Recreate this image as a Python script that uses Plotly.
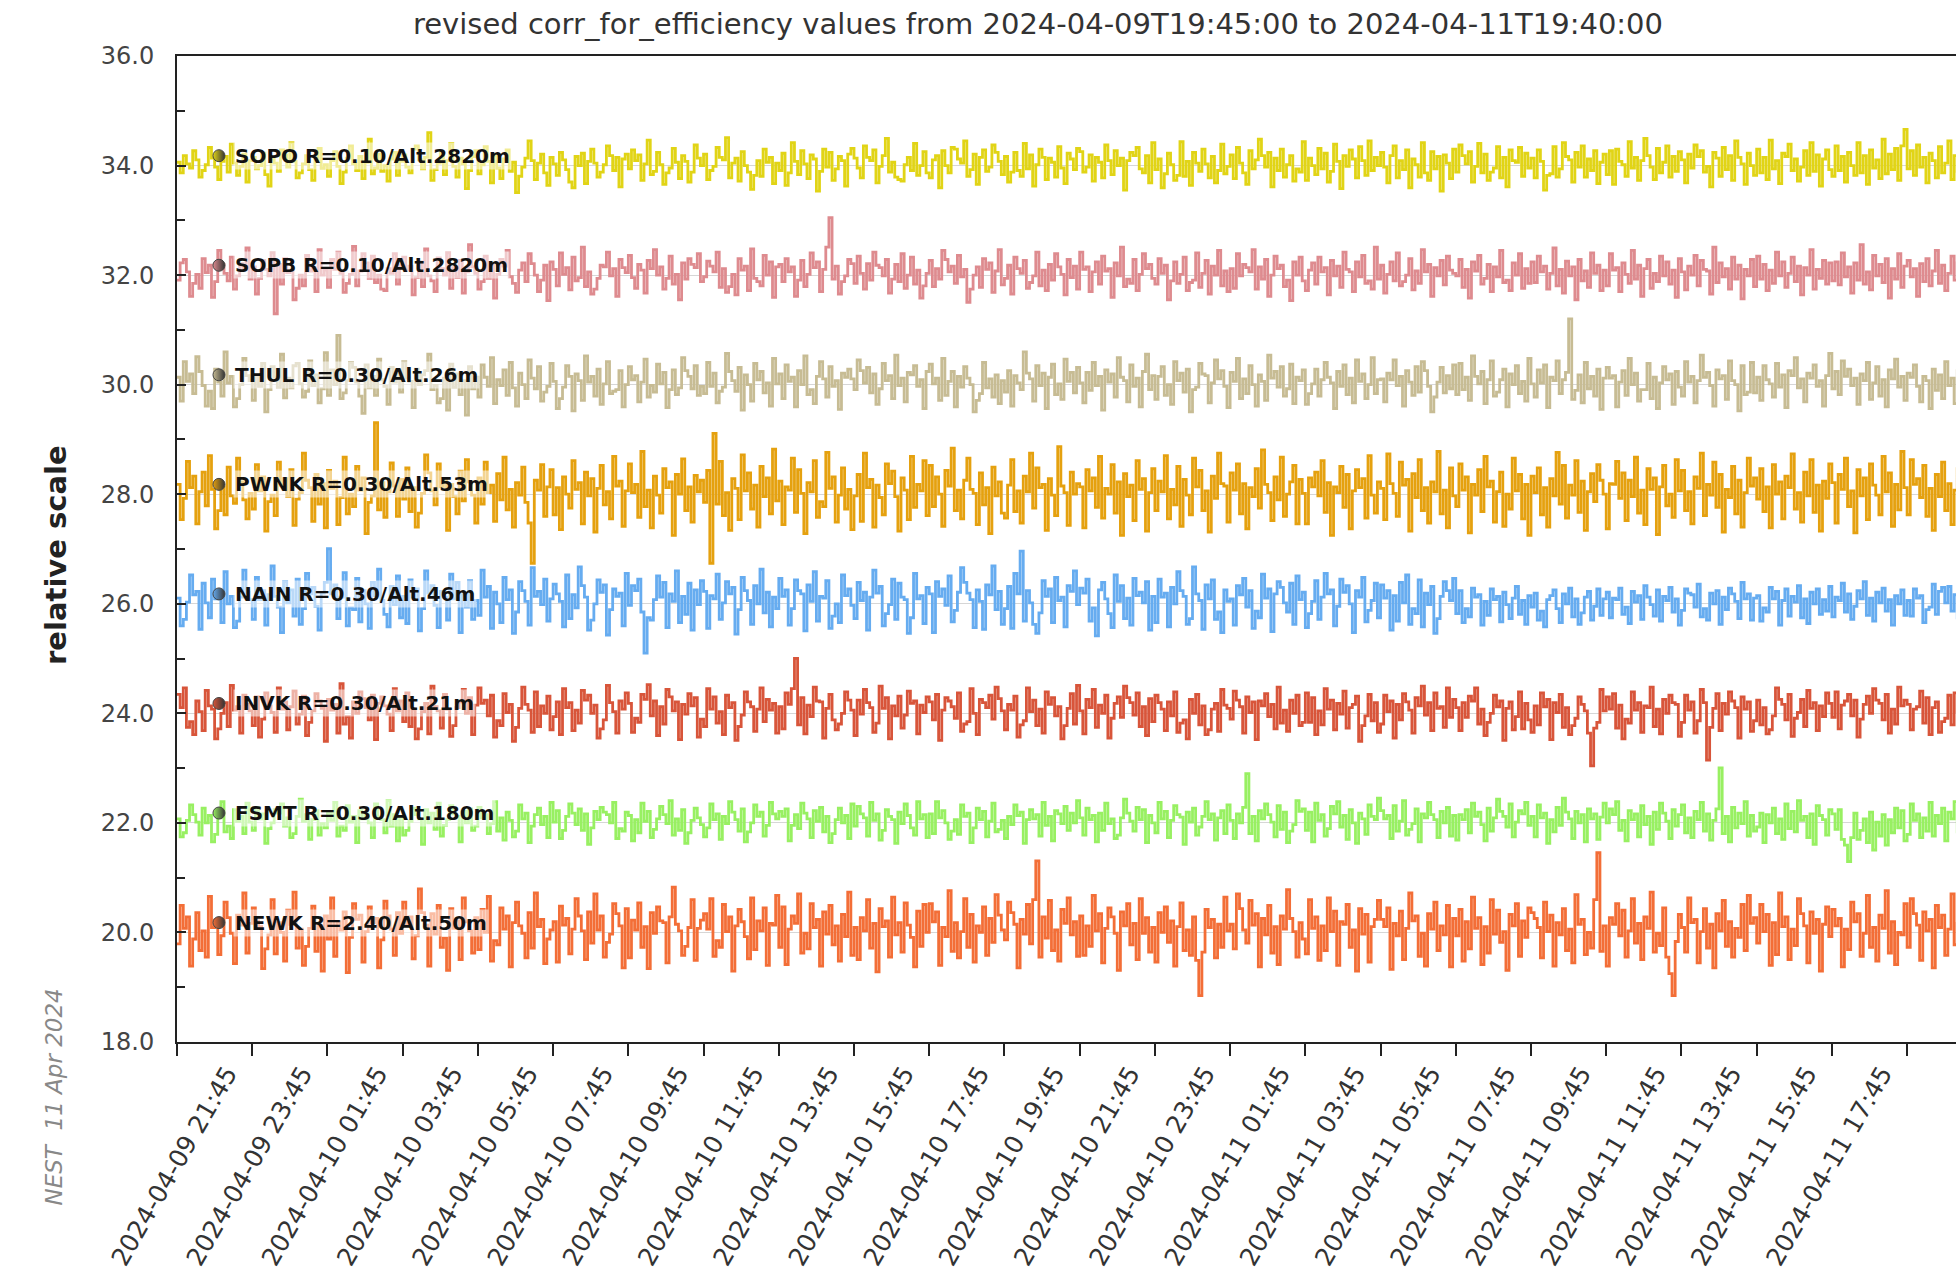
import pandas as pd
import plotly.graph_objects as go

# ---------------- data ----------------
START = "2024-04-09 19:45"          # first sample (5-minute data)
X_END = "2024-04-11 19:03"          # right edge of the visible plot area
STEP = "5min"
DEV_UNIT = 0.015                    # one unit of the deviation arrays on the relative scale

STATIONS = ["SOPO", "SOPB", "THUL", "PWNK", "NAIN", "INVK", "FSMT", "NEWK"]
LABELS = ["SOPO R=0.10/Alt.2820m", "SOPB R=0.10/Alt.2820m", "THUL R=0.30/Alt.26m",
          "PWNK R=0.30/Alt.53m", "NAIN R=0.30/Alt.46m", "INVK R=0.30/Alt.21m",
          "FSMT R=0.30/Alt.180m", "NEWK R=2.40/Alt.50m"]
OFFSETS = [34.0, 32.0, 30.0, 28.0, 26.0, 24.0, 22.0, 20.0]
COLORS = ["#e1d416", "#de8b8f", "#c7bc94", "#e5a10f", "#66acf0", "#d8553a", "#98f062", "#f36e37"]

# deviations from each station's offset (in DEV_UNIT), 5-minute samples
SOPO = [
    4,-9,12,2,-3,18,7,-14,-6,1,22,9,-2,-17,5,11,-8,26,3,-12,-1,14,-20,6,
    10,-4,0,15,-11,-25,8,3,-7,19,13,-2,28,5,-15,-9,2,12,-5,-18,7,21,-3,1,
    -13,6,17,-1,-22,-8,9,24,2,-6,11,-16,4,32,-10,-3,14,-7,0,-19,8,16,-12,5,
    13,-2,-9,20,24,7,-4,10,40,-18,-5,3,15,-11,6,27,-1,-14,9,2,-28,-6,11,18,
    -10,1,23,5,-21,12,-3,-16,8,19,-7,4,-33,-13,-2,9,30,6,-17,3,14,-9,-24,10,
    2,-12,16,7,-5,-20,-27,11,0,15,-22,5,20,3,-14,-8,1,24,12,-6,10,-26,8,14,
    -4,19,6,13,-18,2,31,-11,-7,16,1,-23,-9,-3,21,4,-16,12,5,-20,-8,25,9,0,
    14,-17,-6,-1,22,10,7,34,-15,3,9,-19,17,0,-8,-29,-12,6,-13,20,4,10,-22,3,
    -6,15,-24,-9,28,5,-11,18,2,-16,13,8,-31,-7,20,-2,16,-18,-4,11,6,-25,14,21,
    9,-3,-15,24,10,6,19,-21,-1,12,33,-8,4,-14,-17,-19,1,10,-6,27,-12,0,17,-9,
    -15,7,12,-27,18,0,-9,22,20,8,3,30,-13,-5,14,-23,10,19,-7,-2,25,16,5,-11,
    11,-20,-8,16,-6,-13,27,-4,13,-25,1,20,10,-17,9,4,-14,23,-3,-22,15,8,-5,21,
    17,-8,-2,13,-19,10,4,-15,25,6,-11,18,0,9,-30,6,16,12,22,-4,-9,12,-21,28,
    -5,8,-27,-10,15,1,-18,-12,29,-13,5,-24,16,3,-7,20,2,-15,11,-21,-6,26,-10,-1,
    13,-16,22,3,-9,-23,18,-4,7,32,12,-2,16,-26,9,-6,20,-14,1,12,-19,-4,-8,29,
    -18,9,0,-11,21,-4,15,-20,-7,26,5,-28,12,-1,19,8,-15,23,6,-12,30,-6,10,0,
    16,-2,-21,12,24,-15,6,-5,19,-27,8,1,-14,28,-9,-18,17,-4,11,-31,13,3,-16,20,
    -8,25,12,2,17,-20,-1,27,-9,14,-18,-8,-3,23,-15,10,-26,19,6,4,22,-13,15,-3,
    9,-15,19,5,-30,-12,-10,23,-14,-4,28,11,7,-20,16,-2,24,-14,8,-6,18,-22,4,14,
    -11,18,-23,20,5,1,-13,29,-3,10,-18,6,33,12,-2,-17,21,-9,4,24,-14,11,-7,17,
    7,-21,14,-3,25,11,18,-8,-1,-26,16,9,-13,22,-5,12,-18,30,10,2,-23,15,0,-12,
    20,-9,10,-17,31,-4,6,-22,15,11,26,-6,8,-19,-2,18,-12,28,-7,13,-25,8,19,-5,
    -13,24,-6,11,-20,16,0,-12,28,-9,12,-23,19,-3,7,-16,32,-10,14,-5,21,-18,24,44,
    -4,18,-12,25,-2,10,-21,15,6,-15,23,-9,3,30,-17,12,-7,20,-12,3,-24,13,8,-7,
]
SOPB = [
    -6,15,19,4,-26,-10,1,-16,20,3,12,-27,-8,30,13,2,-7,22,-17,-1,14,9,33,-5,
    10,-23,-4,18,7,-1,27,-47,13,-11,20,3,6,-30,-16,0,-13,24,5,9,-20,31,0,6,
    -15,19,7,28,2,-21,-10,1,35,-13,5,26,15,-4,23,-9,0,-17,-19,8,2,26,-11,12,
    22,6,11,-24,-3,16,-14,32,-1,-7,-20,21,8,0,27,-16,9,-3,18,-22,4,37,10,2,
    -17,-8,23,-4,13,-28,1,19,11,30,-2,-10,-21,6,15,-8,26,14,0,-20,-6,12,-31,16,
    7,-13,27,1,9,-18,22,-7,-3,34,-14,4,-23,-17,-4,12,10,28,-1,8,-26,19,9,3,
    24,-3,-16,13,6,-22,18,8,31,0,10,-17,-4,23,-11,1,-30,15,-5,20,13,9,26,-8,
    -2,17,11,4,28,-15,8,-21,-14,1,-24,20,6,11,-19,32,-4,-8,-13,24,0,16,-27,10,
    13,-8,20,4,10,-26,-6,18,-14,1,27,9,16,-20,7,34,70,-5,11,-23,-8,-1,19,14,
    -10,23,2,-17,14,-6,28,12,9,-1,19,-22,-5,13,-8,26,-16,0,22,-11,6,-28,-13,2,
    18,-14,8,-5,30,19,4,11,-10,24,-2,7,-33,-17,0,10,-15,20,7,15,-21,5,31,-12,
    -4,12,-23,22,8,2,18,-16,-9,-1,28,-13,6,-19,13,-6,26,10,1,-24,19,-3,11,-17,
    28,7,10,-20,4,16,-11,23,5,8,-27,15,-1,34,-14,-5,-10,19,-19,1,26,8,13,-4,
    -11,20,2,12,-30,-7,16,-10,1,22,-19,-9,-6,27,-15,2,18,-23,11,0,30,-13,5,-20,
    8,-16,26,-1,13,9,4,31,-17,10,-5,19,-26,0,23,8,12,-14,-6,-31,16,0,22,-7,
    -19,6,15,-11,22,4,9,-24,18,-1,11,-15,28,7,4,-20,16,-2,24,-10,-7,-17,34,-5,
    12,-22,1,16,-7,27,-13,-8,0,20,-18,5,-10,31,4,13,-26,9,-1,18,-12,23,6,2,
    -1,19,-15,7,-28,16,5,24,-11,-4,13,-20,10,-2,30,-9,-6,-19,15,0,26,-16,8,-10,
    16,-9,23,4,11,-17,2,33,-13,7,-22,17,-1,10,-30,19,-7,5,-15,27,2,12,-19,6,
    -13,26,6,9,-20,15,1,-10,30,-5,12,-26,8,19,-16,2,-8,23,-1,16,-11,6,-27,20,
    4,-18,11,0,24,-13,18,7,5,-23,34,-9,15,-2,8,-17,22,-5,12,-29,7,-1,19,-14,
    23,-5,13,-19,6,-10,28,-1,16,-15,2,22,-8,11,-24,9,0,31,-17,7,-4,18,-11,15,
    -7,16,-12,27,-2,10,-22,15,-6,37,-11,4,-18,24,-1,13,-9,20,-28,8,-5,26,-15,11,
    18,-2,8,-26,14,-8,20,-13,5,30,-10,12,-19,2,23,-6,15,-20,9,-1,27,-12,7,-16,
]
THUL = [
    9,-20,28,4,13,-11,34,16,-1,-26,-8,-29,19,3,-14,40,2,10,-27,-17,0,32,11,5,
    -19,12,-2,26,-33,-6,22,9,-3,37,-16,8,-4,23,26,1,-15,-8,29,-1,12,-22,-5,39,
    -13,18,0,60,-17,-10,5,27,21,3,-14,-35,24,-4,10,-13,31,6,-2,-24,21,3,14,-9,
    28,8,4,-28,19,0,12,17,37,-6,-1,-22,-17,8,-31,25,-3,13,-12,5,-37,22,-5,9,
    -15,24,9,-2,33,-23,6,-1,18,-13,27,-4,-26,14,0,-17,30,8,-5,22,-20,-9,-2,26,
    4,-29,-17,-3,23,10,-32,13,5,-19,35,3,10,-14,19,-24,1,28,-11,-8,-6,17,-27,0,
    22,6,11,-21,3,31,-15,-1,-9,25,1,15,-28,-6,18,-12,-4,33,17,10,-5,23,-13,-2,
    -11,27,-2,14,-22,-8,-3,38,16,5,-8,21,-31,12,0,-20,26,6,16,-10,2,-26,32,1,
    13,-17,24,4,9,-27,17,0,35,-12,-6,-23,10,28,7,-15,22,-2,5,-30,14,9,19,7,
    -6,30,17,2,21,-10,13,-24,-5,26,5,11,-17,36,-1,8,-21,15,12,23,-2,6,-29,16,
    25,1,8,-19,32,-13,4,16,-27,10,-3,22,8,0,-33,-19,-11,27,-4,7,-15,12,-23,5,
    -9,17,-26,11,2,-6,40,14,7,-20,23,-1,14,-29,9,25,-12,1,-18,31,4,15,-10,21,
    2,-22,15,-7,27,-1,10,-31,18,3,13,-15,33,9,5,-21,24,-2,8,-27,16,37,-6,11,
    -18,10,22,-13,0,-24,28,5,14,-9,19,-33,-6,-3,26,13,11,-22,2,30,7,17,-2,-28,
    15,4,32,-17,7,-11,23,0,-26,12,4,-19,36,8,16,-3,22,-14,-5,25,-23,9,5,18,
    -24,-11,1,19,-14,6,27,9,2,-29,16,-2,24,-12,8,-22,30,4,13,-17,0,33,-11,6,
    7,-21,14,6,30,-1,10,-26,17,3,-13,22,-9,28,17,-2,-33,-15,3,21,-10,11,-5,24,
    -12,26,-6,9,-19,35,10,1,16,-23,6,29,-14,-9,6,19,-27,13,0,23,-11,4,-20,32,
    1,-15,18,2,24,-28,9,5,29,-11,6,15,80,-18,-7,12,-22,27,-5,10,-14,19,-30,8,
    21,8,11,-27,3,17,-13,32,0,14,-20,-6,-6,26,-17,9,-29,2,22,6,13,-24,16,-3,
    -14,28,3,10,-22,5,36,9,15,-1,-26,18,7,11,-18,29,5,0,-32,23,-12,-9,27,-10,
    9,-19,23,6,1,-15,26,-3,12,-28,17,11,33,-4,7,-21,14,8,24,-2,5,-26,11,38,
    -5,16,-12,29,10,19,-1,8,-24,13,5,27,-18,2,22,-14,6,-27,18,7,31,-3,10,-19,
    14,9,24,-2,-21,10,5,-29,19,-7,12,-17,28,-1,8,-23,17,11,3,32,-15,6,-5,22,
]
PWNK = [
    12,-31,-5,40,8,22,-36,3,27,-14,47,6,-42,-20,9,-25,33,-2,-11,44,15,-7,-30,1,
    -18,36,4,21,-45,-9,-1,-26,39,11,19,-3,30,-38,-6,2,50,17,8,-33,24,-12,13,-41,
    29,7,16,-37,-4,45,-24,0,-15,34,5,20,-48,-10,-2,87,-19,14,-28,3,38,10,-27,18,
    -6,32,-21,8,-40,-23,1,48,26,4,-13,37,9,18,-44,12,-3,-24,28,-8,42,15,-1,-35,
    20,-12,39,2,11,-33,25,-7,45,-19,6,-40,14,-1,33,-10,-35,-84,17,5,36,-27,9,30,
    -25,8,-43,21,0,-17,41,6,14,-36,27,-2,19,-46,7,35,-13,3,-30,46,10,16,-39,4,
    37,2,12,-28,52,-15,5,-41,22,-1,-23,31,8,15,-50,24,0,43,-20,9,-34,23,3,17,
    -10,29,-84,74,-12,40,-26,2,-44,19,7,-31,48,4,26,-18,11,-40,34,-3,20,-24,55,-8,
    16,-37,9,5,44,-22,30,1,-48,14,3,41,-28,-9,-15,51,7,21,-34,-1,32,-18,6,-43,
    -2,24,-33,50,8,18,-40,11,-4,-25,37,13,28,-3,-45,20,5,-31,46,-16,12,4,41,-26,
    35,-15,21,0,-39,29,10,56,-20,5,-30,17,44,6,1,-37,26,-13,8,-48,33,-2,15,-23,
    -29,11,42,-21,4,-35,22,3,50,-17,32,8,12,-44,19,-1,-26,58,10,2,-38,27,0,13,
    9,-41,30,4,20,-16,46,-29,7,0,36,-23,15,-50,25,-3,11,-32,41,6,19,-45,2,31,
    -20,16,3,47,-30,6,-13,34,-39,18,-1,-25,44,9,29,-20,4,-46,22,-5,50,13,10,-34,
    26,5,37,-24,13,-42,8,-3,31,-17,54,12,2,-32,21,-7,45,-27,0,15,35,-36,18,1,
    -36,20,9,27,-2,41,-22,14,-50,9,2,34,-16,24,-42,4,30,8,19,-29,47,-1,-23,15,
    7,-31,49,13,1,-27,39,11,18,-45,25,-4,42,-20,8,-35,15,3,52,-24,5,-41,32,-2,
    -15,37,5,21,-47,12,-1,30,-21,46,9,16,-34,3,27,-39,0,-18,44,4,24,-30,12,-50,
    22,2,32,-25,8,-40,19,-2,51,-12,35,-29,11,-1,41,-22,16,-44,3,25,-9,36,17,0,
    -42,13,12,40,-5,26,-32,17,-3,45,-23,5,-37,31,6,20,-49,9,35,-14,0,-28,42,4,
    29,-20,3,-36,21,7,50,-26,12,-1,39,-16,24,-46,6,-4,34,-24,17,-40,2,44,10,20,
    -6,31,-21,9,-41,36,0,15,-30,22,8,49,-18,2,-34,27,-2,42,-22,11,-45,16,-5,37,
    14,-35,24,6,44,-15,4,-47,30,-2,20,-31,37,11,-1,-25,46,3,26,-39,12,-19,52,8,
    -25,42,12,19,-4,35,-27,7,-44,24,-3,39,-20,13,-37,5,31,16,2,-49,21,6,32,-14,
]
NAIN = [
    7,-27,-19,2,35,11,15,-31,25,1,-17,30,6,13,-23,39,0,9,-29,-21,8,41,14,5,
    -19,32,5,16,-26,11,46,9,-4,-35,27,1,17,-15,30,-25,-6,37,12,20,-3,-32,13,26,
    67,12,23,-18,8,38,-27,-5,-7,31,-22,16,0,-30,26,10,42,4,-13,-28,21,-1,34,-17,
    9,-24,29,8,18,-33,-6,40,13,22,-2,-29,15,8,-20,36,6,26,-35,11,-4,28,-19,4,
    -14,41,8,21,-30,14,0,-23,32,5,17,-36,-10,27,16,3,-26,44,9,15,-1,30,-21,6,
    24,12,3,-28,35,-18,11,-5,45,22,8,-32,-20,0,29,14,23,-38,-7,18,9,13,-27,37,
    -2,22,16,30,-10,-60,-17,-20,5,34,8,26,-29,12,3,40,-23,9,-13,25,-32,17,-1,28,
    15,-30,10,6,36,-19,1,27,12,20,-37,-7,32,16,4,-25,22,0,42,-11,14,-28,8,-6,
    31,9,17,-26,-6,29,16,12,-33,23,3,39,-21,9,7,28,-30,-15,0,-23,35,10,18,-2,
    -18,26,4,14,-32,8,41,13,21,-27,-12,-1,30,-19,25,8,5,-36,-17,37,6,10,-24,20,
    12,-35,27,9,18,-2,34,-22,-8,14,44,26,13,5,-29,17,3,-31,23,11,46,-7,15,-25,
    -6,21,-30,37,12,64,-21,16,1,-25,-36,-11,28,9,18,-23,32,4,8,-28,22,15,40,-1,
    19,13,30,-21,-5,-39,17,26,6,-12,-29,35,3,22,-18,7,-26,31,10,14,1,27,-32,9,
    -23,30,8,13,-28,20,0,39,16,9,-25,-18,45,12,4,-31,23,6,29,-19,-10,-35,17,3,
    6,-26,22,11,31,-4,16,-30,-9,-17,36,7,18,-34,12,27,20,1,-10,25,-25,34,5,14,
    -29,-12,3,28,-19,8,37,12,17,-27,-3,30,14,22,0,-35,16,8,32,-22,-8,4,25,-17,
    23,7,16,-32,10,-21,26,1,35,-25,-6,-12,29,-28,13,-1,21,-36,-18,9,27,16,4,31,
    -12,16,-23,-6,-16,19,8,11,-26,3,-14,18,5,9,-22,14,-1,-18,7,21,-13,4,-25,10,
    -4,13,-20,-9,-28,5,10,17,-6,-23,12,0,19,-16,6,-25,-11,8,15,-20,-3,18,-14,6,
    14,-17,7,5,19,-13,-4,-24,15,2,10,-19,22,8,-1,-15,17,-21,9,4,20,-10,6,-26,
    -8,18,13,11,-4,24,-16,-6,-20,13,0,16,-25,8,-7,19,12,3,-18,26,6,12,-20,7,
    10,-21,-5,-10,20,6,15,-26,4,18,-15,9,2,22,-17,6,-24,14,0,18,-13,5,-9,21,
    -16,8,4,25,-10,12,-19,-3,16,6,27,-14,7,-21,14,1,19,-9,5,-26,10,0,17,-14,
    4,-15,18,7,10,-23,-7,-4,24,-13,15,20,1,21,-9,11,-17,6,-25,16,5,13,-10,20,
]
INVK = [
    23,7,31,-17,-10,-26,15,2,-21,28,9,5,-31,-19,0,13,-16,34,4,8,-24,22,11,3,
    -15,20,-29,-7,25,9,1,-23,31,5,14,-20,8,27,-13,-1,21,-27,-11,3,24,15,6,-34,
    17,4,11,-24,36,-13,-4,-30,14,0,26,18,7,-8,22,-32,12,20,9,-1,-21,30,3,15,
    -10,25,-16,5,-31,-19,2,12,-25,33,8,3,-18,23,5,-28,-15,7,14,29,0,19,-26,10,
    31,12,16,-3,22,-29,-9,-15,24,1,11,-34,-17,6,32,11,4,-23,26,-16,9,0,21,-20,
    -4,14,-26,30,7,13,-21,4,-12,28,16,22,0,10,-30,-19,-8,34,13,2,-24,15,5,25,
    12,-23,-6,-11,23,17,35,-3,15,-27,8,-13,29,20,3,14,-32,11,-1,24,9,19,-29,-7,
    -16,30,5,20,-12,2,-26,22,7,13,-33,-16,-2,26,14,8,-22,5,31,-10,17,4,12,-24,
    8,-19,25,11,30,67,-14,19,-25,10,-4,32,15,14,-30,6,23,-8,-20,-13,0,26,16,4,
    -27,16,-1,29,13,7,-23,-12,33,6,19,-31,9,-3,21,-18,-2,27,12,15,-25,10,1,20,
    14,-8,23,-33,4,19,15,8,-6,25,-22,-13,-10,30,0,-26,17,13,7,22,-7,32,18,3,
    -20,11,4,21,-29,-14,-9,31,2,16,-15,5,-24,26,11,19,-3,8,-31,-15,6,24,-13,34,
    3,-25,17,7,29,-17,10,0,22,-30,-6,12,20,-5,33,19,13,-2,25,-16,8,-27,18,-10,
    22,13,5,-21,14,-3,26,-23,-12,-8,-31,17,0,23,-14,9,-26,-20,5,12,-22,29,10,6,
    -7,27,16,8,-24,20,1,14,-32,15,9,24,-4,11,-19,32,-12,4,-22,16,0,22,-15,-11,
    25,-11,19,-26,3,-14,30,5,16,-20,12,-1,27,-18,7,11,21,-34,-15,-3,23,-9,13,-23,
    -13,22,2,15,-30,11,-8,24,14,4,-24,19,9,33,-2,13,-21,25,6,8,-17,31,-5,17,
    7,-21,13,-5,21,15,31,-13,5,-27,-11,0,22,8,15,-33,6,14,-20,-4,26,-19,12,-8,
    -23,9,-14,25,8,17,-32,13,1,23,-17,7,-26,-15,-6,20,11,3,-24,-64,-18,-11,29,3,
    20,5,24,-18,10,-31,-7,-12,26,4,13,-23,9,7,32,-16,5,-25,17,0,22,13,11,-28,
    -11,22,4,14,-24,-9,29,13,-57,-17,6,24,-21,12,-1,26,15,7,-30,20,5,14,-22,-9,
    16,-14,7,-25,-20,-3,31,17,11,-8,23,-28,-6,1,17,-16,28,6,13,-21,9,-4,25,12,
    -5,26,-19,10,15,23,-3,16,-29,-7,11,21,0,30,16,12,-8,23,-24,5,-13,32,9,16,
    11,-20,5,8,27,-12,19,-26,7,14,-23,-10,-6,22,-14,25,2,8,-31,15,-9,20,-17,6,
]
FSMT = [
    5,-17,-12,3,22,10,1,-15,18,0,9,-23,-14,6,26,-11,-4,-19,16,2,8,-13,24,1,
    -9,19,5,11,-25,-7,0,16,12,23,-4,6,-18,-13,8,29,2,10,-20,4,15,-15,-1,-6,
    13,3,25,-16,-4,-9,21,1,8,-24,15,5,11,0,-18,23,7,4,-12,27,-4,10,-22,8,
    -15,-9,2,18,10,5,-26,16,0,12,-8,24,-16,-3,4,21,11,8,-23,14,0,17,-9,-4,
    19,6,10,-13,-1,26,-10,6,-21,13,3,-17,-10,22,5,12,-24,-4,10,18,-2,8,-18,25,
    1,15,-19,-9,8,23,12,-2,17,-9,11,-26,-6,14,4,19,13,10,0,25,-19,-7,-10,13,
    9,-22,4,-12,24,2,14,-18,-8,5,20,10,-1,27,-15,5,-9,16,-25,-12,3,18,6,-2,
    -17,-6,23,4,11,-20,8,-1,26,13,4,-10,17,-23,-11,0,22,8,13,-16,-3,25,11,5,
    14,8,17,-22,-3,10,-7,24,12,5,-18,15,2,19,-11,8,-24,-13,4,18,0,9,-19,23,
    -4,20,11,6,-16,25,3,11,-21,-9,16,8,4,-25,13,-1,23,9,-6,-15,26,5,10,-18,
    11,-13,26,6,15,0,-20,-10,4,-14,22,8,12,-24,-6,18,4,14,-17,2,24,-11,-8,3,
    -19,8,-2,22,9,13,-25,4,16,5,10,-16,25,-3,8,-22,15,11,-1,20,-9,12,0,27,
    6,-15,18,4,9,-23,12,-9,24,-1,5,-19,-15,6,29,12,2,-10,19,4,16,-24,9,0,
    -12,25,5,14,-18,3,21,10,7,-26,13,1,18,-15,-5,8,26,4,11,-21,6,15,-13,22,
    3,-19,11,0,19,60,-13,8,-22,15,5,23,10,1,-17,21,-8,13,-24,-10,-2,27,14,17,
    -9,13,-23,24,3,10,-16,-7,20,11,26,-5,9,-20,16,0,-25,12,5,-14,22,8,4,30,
    15,5,9,-19,21,-10,2,27,-15,-8,-1,17,-23,11,6,25,10,4,-18,14,0,19,-16,9,
    -21,10,4,16,-12,24,8,13,-2,-22,18,-10,6,29,14,8,-5,23,-17,1,15,11,25,-3,
    8,-17,22,6,12,-25,4,-11,19,-3,30,13,5,-19,14,0,10,-23,17,5,11,-20,7,24,
    0,17,10,26,-9,3,-22,15,4,11,-17,21,-2,8,-26,13,-8,24,12,2,-19,16,-4,10,
    22,-12,6,-18,14,4,25,-10,11,-21,3,17,67,-13,8,-23,19,-6,12,-1,26,-16,9,-10,
    -5,12,-24,10,0,18,-13,5,-20,23,-7,14,-11,27,3,8,-18,11,-26,21,9,4,-15,16,
    11,-8,16,-20,-27,-47,-18,12,-20,-9,5,-24,13,-33,1,-16,10,-27,4,-12,18,-6,15,-22,
    -14,23,3,11,-18,6,-10,25,-16,9,-1,18,-22,13,5,26,-11,3,-17,19,4,10,-25,8,
]
NEWK = [
    -14,33,5,19,-41,-8,24,-22,2,-30,44,6,15,-27,-4,37,18,-1,-38,21,9,48,-25,11,
    30,14,7,-44,-20,-3,40,-26,12,0,-35,27,10,49,-19,4,-40,-17,5,32,-23,8,-47,20,
    -8,42,-29,13,3,25,-49,-6,35,16,21,-36,1,31,12,17,-43,-9,38,20,4,-28,24,-1,
    37,10,19,-32,-4,53,24,9,-41,23,-2,33,-18,-7,-46,29,5,14,-33,42,13,2,-25,18,
    -21,28,0,44,-35,-10,-15,30,4,20,-42,12,37,8,-1,-31,24,-19,48,7,16,-38,-8,3,
    13,-36,32,9,17,-26,4,41,20,2,-33,25,-13,47,3,20,-30,-12,-2,35,23,8,-43,29,
    -31,15,3,36,-18,7,-44,24,-1,31,14,12,-37,19,55,10,2,-28,-17,6,40,-34,5,15,
    23,4,41,-29,-10,-18,34,1,19,-47,8,28,13,-5,-32,42,-21,14,2,30,-40,11,9,45,
    -18,31,-39,4,20,11,47,-25,-1,-20,35,6,16,-41,25,-2,33,-15,8,-35,22,-5,49,-28,
    6,-33,18,2,40,-19,11,-48,29,7,14,-30,43,-3,12,-24,36,9,-6,-42,26,-17,34,0,
    35,13,25,-40,6,-5,51,-23,12,-31,1,41,-18,22,-36,8,0,31,-28,17,-12,46,21,3,
    -9,37,24,10,-43,16,-2,34,-14,40,87,-30,19,-7,39,-22,3,-35,28,11,42,-3,13,-29,
    20,-28,8,-17,45,2,23,-37,5,30,19,-1,-46,25,8,35,-15,11,-33,41,-1,18,-24,6,
    -36,24,0,31,-12,14,-41,7,36,-22,3,-28,19,-34,-77,-24,28,6,16,-31,10,-18,43,2,
    10,-20,47,29,3,-13,39,9,23,-42,17,-3,33,-25,7,-39,20,4,52,17,1,-30,12,-8,
    -26,40,5,19,-34,8,-22,42,1,26,-40,13,10,34,-18,3,-47,29,-2,22,-36,7,16,39,
    16,7,30,-45,11,-4,26,-33,5,48,14,20,-29,-1,-41,23,4,37,-22,8,-3,33,-42,17,
    -4,28,-35,13,-20,43,5,18,-39,7,-25,40,-2,27,-12,1,-46,22,8,35,-29,14,-6,30,
    24,17,6,-31,37,1,21,-41,12,-3,29,-22,4,-37,46,10,16,-27,0,-19,40,97,-23,8,
    -41,18,10,35,-4,27,-30,2,41,-13,11,-33,19,5,49,-24,-1,-16,30,-30,-50,-77,-11,22,
    6,-24,42,12,16,-37,1,29,-19,10,-43,23,2,39,-17,13,-30,5,-6,34,-22,45,11,18,
    -13,34,1,22,-40,12,-27,48,7,19,-33,4,-16,41,23,8,-37,25,-1,16,-47,10,31,-5,
    28,8,17,-42,4,-21,37,13,23,-29,-1,45,-18,6,-35,21,5,51,-25,13,-39,0,-3,35,
    -18,41,23,9,-34,25,2,16,-43,33,6,21,-28,4,47,-15,11,-36,19,0,30,-21,40,9,
]
SERIES = [SOPO, SOPB, THUL, PWNK, NAIN, INVK, FSMT, NEWK]

TICK_TIMES = pd.date_range(START, periods=24, freq="2h")
TICK_LABELS = [""] + [t.strftime("%Y-%m-%d %H:%M") for t in TICK_TIMES[1:]]

TITLE = "revised corr_for_efficiency values from 2024-04-09T19:45:00 to 2024-04-11T19:40:00"

# ---------------- figure ----------------
FONT = "DejaVu Sans"
W, H = 1956, 1275
ML, MT, MB = 177, 56, 233

fig = go.Figure()
t0 = pd.Timestamp(START)
t1 = pd.Timestamp(X_END)
span = t1 - t0
marker_t = t0 + span * 0.0236

for name, off, col, dev in zip(STATIONS, OFFSETS, COLORS, SERIES):
    x = pd.date_range(START, periods=len(dev), freq=STEP)
    y = [off + d * DEV_UNIT for d in dev]
    fig.add_trace(go.Scatter(x=x, y=y, mode="lines", name=name,
                             line=dict(color=col, width=2.8, shape="hv"),
                             showlegend=False, hoverinfo="skip"))

for name, lab, off, col in zip(STATIONS, LABELS, OFFSETS, COLORS):
    fig.add_annotation(x=0.0315, xref="paper", y=off + 0.18, yref="y",
                       text="<b>" + lab + "</b>", showarrow=False,
                       xanchor="left", yanchor="middle",
                       font=dict(family=FONT, size=20, color="#111111"),
                       bgcolor="rgba(255,255,255,0.55)", borderpad=1)
    fig.add_trace(go.Scatter(x=[marker_t], y=[off + 0.18], mode="markers",
                             marker=dict(size=12, color=col,
                                         gradient=dict(type="horizontal", color="#333333"),
                                         line=dict(width=1, color="#444444")),
                             showlegend=False, hoverinfo="skip"))

fig.add_annotation(x=-0.068, xref="paper", y=0.494, yref="paper",
                   text="<b>relative scale</b>", textangle=-90, showarrow=False,
                   xanchor="center", yanchor="middle",
                   font=dict(family=FONT, size=29, color="#222222"))
fig.add_annotation(x=-0.069, xref="paper", y=-0.056, yref="paper",
                   text="<i>NEST  11 Apr 2024</i>", textangle=-90, showarrow=False,
                   xanchor="center", yanchor="middle",
                   font=dict(family=FONT, size=23, color="#888888"))

fig.update_layout(
    width=W, height=H,
    margin=dict(l=ML, r=0, t=MT, b=MB, pad=0, autoexpand=False),
    paper_bgcolor="white", plot_bgcolor="white",
    title=dict(text=TITLE, x=1038 / W, xanchor="center", xref="container",
               y=1 - 24 / H, yanchor="middle", yref="container",
               font=dict(family=FONT, size=29, color="#333333")),
    font=dict(family=FONT),
)
fig.update_xaxes(
    type="date", range=[t0, t1], automargin=False,
    tickvals=list(TICK_TIMES), ticktext=TICK_LABELS, tickangle=-60,
    ticks="outside", ticklen=12, tickwidth=2, tickcolor="#222222",
    tickfont=dict(family=FONT, size=25, color="#333333"),
    ticklabelshift=-25, ticklabelstandoff=-7,
    showline=True, linecolor="#222222", linewidth=2, mirror=True,
    showgrid=False, zeroline=False,
)
fig.update_yaxes(
    range=[18, 36], automargin=False,
    tickvals=[18, 20, 22, 24, 26, 28, 30, 32, 34, 36],
    tickformat=".1f", ticks="inside", ticklen=9, tickwidth=2, tickcolor="#222222",
    minor=dict(tickvals=[19, 21, 23, 25, 27, 29, 31, 33, 35], ticks="inside",
               ticklen=8, tickwidth=2, tickcolor="#222222", showgrid=False),
    tickfont=dict(family=FONT, size=24, color="#444444"),
    ticklabelstandoff=16,
    showline=True, linecolor="#222222", linewidth=2, mirror=False,
    showgrid=True, gridcolor="#d6d6d6", gridwidth=1, zeroline=False,
)

fig.write_html("out.html", config={"displayModeBar": False},
               post_script="document.body.style.margin='0';document.body.style.overflow='hidden';")
